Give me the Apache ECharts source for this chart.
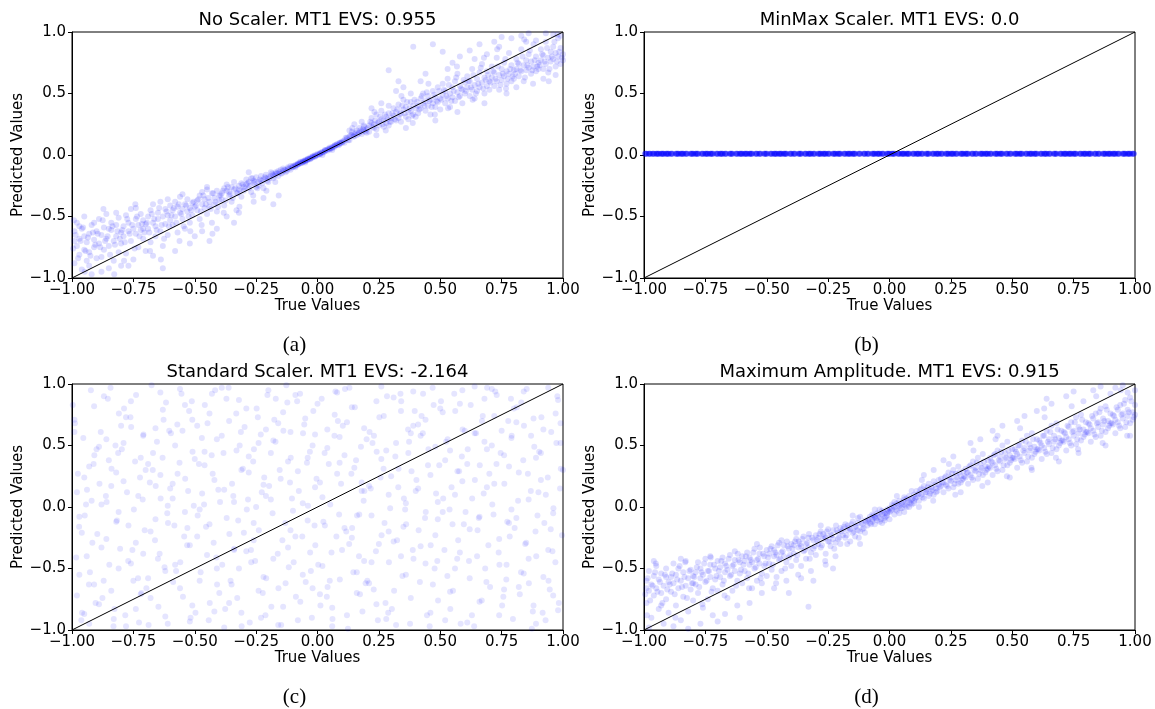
<!DOCTYPE html>
<html>
<head>
<meta charset="utf-8">
<script src="https://cdn.jsdelivr.net/npm/echarts@6/dist/echarts.min.js"></script>
<style>
html,body{margin:0;padding:0;background:#fff;}
#chart{width:1155px;height:709px;}
</style>
</head>
<body>
<div id="chart"></div>
<script>
// ---------------- DATA ----------------
const panelTitles = [
  "No Scaler. MT1 EVS: 0.955",
  "MinMax Scaler. MT1 EVS: 0.0",
  "Standard Scaler. MT1 EVS: -2.164",
  "Maximum Amplitude. MT1 EVS: 0.915"
];
const subCaptions = ["(a)", "(b)", "(c)", "(d)"];
const xAxisName = "True Values";
const yAxisName = "Predicted Values";
const diagonal = [[-1, -1], [1, 1]];

// (a) No Scaler: [true, predicted]
const noScalerPoints = [
[-0.99,-0.62],[-0.99,-0.88],[-0.98,-0.74],[-0.98,-0.55],[-0.97,-0.81],[-0.97,-0.68],[-0.96,-0.93],[-0.96,-0.6],[-0.95,-0.77],[-0.95,-0.5],[-0.94,-0.71],[-0.94,-0.86],[-0.93,-0.64],[-0.93,-0.79],[-0.92,-0.57],[-0.92,-0.97],[-0.91,-0.69],[-0.91,-0.75],[-0.9,-0.62],[-0.9,-0.84],
[-0.99,-0.7],[-0.97,-0.58],[-0.95,-0.66],[-0.93,-0.9],[-0.91,-0.55],
[-0.89,-0.72],[-0.89,-0.52],[-0.88,-0.65],[-0.88,-0.83],[-0.87,-0.59],[-0.87,-0.77],[-0.86,-0.68],[-0.86,-0.48],[-0.85,-0.74],[-0.85,-0.92],[-0.84,-0.61],[-0.84,-0.55],[-0.83,-0.7],[-0.83,-0.86],[-0.82,-0.57],[-0.82,-0.66],[-0.81,-0.79],[-0.81,-0.51],[-0.8,-0.63],[-0.8,-0.72],
[-0.88,-0.95],[-0.85,-0.6],[-0.82,-0.47],[-0.8,-0.9],
[-0.79,-0.58],[-0.79,-0.66],[-0.78,-0.49],[-0.78,-0.8],[-0.77,-0.62],[-0.77,-0.55],[-0.76,-0.7],[-0.76,-0.44],[-0.75,-0.6],[-0.75,-0.85],[-0.74,-0.52],[-0.74,-0.64],[-0.73,-0.57],[-0.73,-0.75],[-0.72,-0.48],[-0.72,-0.61],[-0.71,-0.68],[-0.71,-0.53],[-0.7,-0.56],[-0.7,-0.78],
[-0.77,-0.9],[-0.74,-0.43],[-0.71,-0.6],
[-0.69,-0.5],[-0.69,-0.6],[-0.68,-0.45],[-0.68,-0.71],[-0.67,-0.55],[-0.67,-0.4],[-0.66,-0.58],[-0.66,-0.66],[-0.65,-0.47],[-0.65,-0.52],[-0.64,-0.62],[-0.64,-0.38],[-0.63,-0.5],[-0.63,-0.74],[-0.62,-0.44],[-0.62,-0.56],[-0.61,-0.49],[-0.61,-0.65],[-0.6,-0.41],[-0.6,-0.53],
[-0.67,-0.82],[-0.63,-0.92],[-0.61,-0.36],
[-0.59,-0.45],[-0.59,-0.57],[-0.58,-0.38],[-0.58,-0.5],[-0.57,-0.42],[-0.57,-0.63],[-0.56,-0.47],[-0.56,-0.34],[-0.55,-0.52],[-0.55,-0.44],[-0.54,-0.4],[-0.54,-0.6],[-0.53,-0.46],[-0.53,-0.36],[-0.52,-0.43],[-0.52,-0.55],[-0.51,-0.39],[-0.51,-0.49],[-0.5,-0.42],[-0.5,-0.66],
[-0.58,-0.78],[-0.55,-0.32],[-0.52,-0.72],
[-0.49,-0.37],[-0.49,-0.45],[-0.48,-0.33],[-0.48,-0.52],[-0.47,-0.4],[-0.47,-0.3],[-0.46,-0.43],[-0.46,-0.36],[-0.45,-0.48],[-0.45,-0.28],[-0.44,-0.38],[-0.44,-0.42],[-0.43,-0.31],[-0.43,-0.55],[-0.42,-0.35],[-0.42,-0.4],[-0.41,-0.29],[-0.41,-0.46],[-0.4,-0.33],[-0.4,-0.37],
[-0.47,-0.62],[-0.44,-0.7],[-0.41,-0.6],[-0.45,-0.26],
[-0.39,-0.31],[-0.39,-0.36],[-0.38,-0.27],[-0.38,-0.41],[-0.37,-0.29],[-0.37,-0.24],[-0.36,-0.33],[-0.36,-0.3],[-0.35,-0.26],[-0.35,-0.38],[-0.34,-0.28],[-0.34,-0.22],[-0.33,-0.31],[-0.33,-0.45],[-0.32,-0.25],[-0.32,-0.28],[-0.31,-0.23],[-0.31,-0.34],[-0.3,-0.26],[-0.3,-0.29],
[-0.37,-0.5],[-0.34,-0.55],[-0.32,-0.47],
[-0.29,-0.24],[-0.29,-0.2],[-0.28,-0.27],[-0.28,-0.22],[-0.27,-0.19],[-0.27,-0.3],[-0.26,-0.23],[-0.26,-0.21],[-0.25,-0.18],[-0.25,-0.26],[-0.24,-0.22],[-0.24,-0.25],[-0.23,-0.17],[-0.23,-0.21],[-0.22,-0.2],[-0.22,-0.27],[-0.21,-0.16],[-0.21,-0.19],[-0.2,-0.18],[-0.2,-0.22],
[-0.26,-0.38],[-0.22,-0.35],[-0.28,-0.14],[-0.18,-0.4],
[-0.19,-0.17],[-0.19,-0.14],[-0.18,-0.16],[-0.18,-0.19],[-0.17,-0.14],[-0.17,-0.15],[-0.16,-0.13],[-0.16,-0.17],[-0.15,-0.12],[-0.15,-0.15],[-0.14,-0.13],[-0.14,-0.11],[-0.13,-0.12],[-0.13,-0.14],[-0.12,-0.1],[-0.12,-0.11],[-0.11,-0.09],[-0.11,-0.12],[-0.1,-0.09],[-0.1,-0.1],
[-0.09,-0.08],[-0.09,-0.09],[-0.08,-0.07],[-0.08,-0.08],[-0.07,-0.06],[-0.07,-0.07],[-0.06,-0.05],[-0.06,-0.06],[-0.05,-0.04],[-0.05,-0.05],[-0.04,-0.04],[-0.04,-0.03],[-0.03,-0.03],[-0.03,-0.02],[-0.02,-0.02],[-0.02,-0.01],[-0.01,-0.01],[-0.01,0.0],[0.0,0.0],[0.0,0.01],
[-0.06,-0.055],[-0.04,-0.035],[-0.02,-0.015],[-0.08,-0.075],[-0.05,-0.045],[0.01,0.01],[0.02,0.02],
[0.01,0.015],[0.02,0.025],[0.03,0.03],[0.03,0.04],[0.04,0.045],[0.04,0.035],[0.05,0.05],[0.05,0.06],[0.06,0.065],[0.06,0.055],[0.07,0.075],[0.07,0.065],[0.08,0.085],[0.08,0.09],[0.09,0.1],[0.09,0.085],[0.1,0.11],[0.1,0.1],[0.02,0.0],[0.06,0.04],
[0.11,0.12],[0.11,0.1],[0.12,0.14],[0.12,0.13],[0.13,0.15],[0.13,0.12],[0.14,0.16],[0.14,0.19],[0.15,0.15],[0.15,0.17],[0.16,0.2],[0.16,0.16],[0.17,0.18],[0.17,0.22],[0.18,0.19],[0.18,0.17],[0.19,0.23],[0.19,0.2],[0.2,0.21],[0.2,0.18],
[0.15,0.25],[0.18,0.27],[0.13,0.2],
[0.21,0.24],[0.21,0.19],[0.22,0.26],[0.22,0.3],[0.23,0.22],[0.23,0.25],[0.24,0.33],[0.24,0.21],[0.25,0.27],[0.25,0.24],[0.26,0.29],[0.26,0.36],[0.27,0.23],[0.27,0.28],[0.28,0.31],[0.28,0.26],[0.29,0.34],[0.29,0.24],[0.3,0.3],[0.3,0.27],
[0.22,0.38],[0.26,0.42],[0.29,0.4],[0.24,0.16],[0.29,0.69],
[0.31,0.32],[0.31,0.38],[0.32,0.28],[0.32,0.35],[0.33,0.41],[0.33,0.3],[0.34,0.34],[0.34,0.27],[0.35,0.37],[0.35,0.45],[0.36,0.31],[0.36,0.39],[0.37,0.35],[0.37,0.29],[0.38,0.43],[0.38,0.36],[0.39,0.33],[0.39,0.4],[0.4,0.38],[0.4,0.31],
[0.32,0.52],[0.35,0.55],[0.38,0.5],[0.33,0.6],[0.36,0.22],
[0.41,0.4],[0.41,0.34],[0.42,0.46],[0.42,0.38],[0.43,0.42],[0.43,0.5],[0.44,0.36],[0.44,0.44],[0.45,0.48],[0.45,0.4],[0.46,0.33],[0.46,0.45],[0.47,0.52],[0.47,0.42],[0.48,0.39],[0.48,0.47],[0.49,0.55],[0.49,0.43],[0.5,0.37],[0.5,0.46],
[0.39,0.88],[0.47,0.9],[0.44,0.66],[0.42,0.6],[0.48,0.28],
[0.51,0.49],[0.51,0.58],[0.52,0.42],[0.52,0.52],[0.53,0.46],[0.53,0.62],[0.54,0.5],[0.54,0.39],[0.55,0.55],[0.55,0.47],[0.56,0.6],[0.56,0.44],[0.57,0.51],[0.57,0.66],[0.58,0.48],[0.58,0.56],[0.59,0.42],[0.59,0.53],[0.6,0.59],[0.6,0.5],
[0.51,0.84],[0.55,0.75],[0.58,0.8],[0.53,0.7],[0.57,0.35],
[0.61,0.55],[0.61,0.64],[0.62,0.48],[0.62,0.6],[0.63,0.53],[0.63,0.7],[0.64,0.57],[0.64,0.46],[0.65,0.62],[0.65,0.52],[0.66,0.67],[0.66,0.55],[0.67,0.59],[0.67,0.74],[0.68,0.5],[0.68,0.63],[0.69,0.56],[0.69,0.68],[0.7,0.6],[0.7,0.53],
[0.62,0.85],[0.66,0.9],[0.69,0.82],[0.64,0.78],[0.68,0.42],
[0.71,0.63],[0.71,0.72],[0.72,0.56],[0.72,0.67],[0.73,0.6],[0.73,0.79],[0.74,0.65],[0.74,0.53],[0.75,0.7],[0.75,0.61],[0.76,0.75],[0.76,0.64],[0.77,0.58],[0.77,0.68],[0.78,0.83],[0.78,0.66],[0.79,0.6],[0.79,0.73],[0.8,0.69],[0.8,0.62],
[0.72,0.92],[0.75,0.96],[0.79,0.95],[0.74,0.88],[0.77,0.5],
[0.81,0.7],[0.81,0.78],[0.82,0.64],[0.82,0.74],[0.83,0.68],[0.83,0.86],[0.84,0.73],[0.84,0.6],[0.85,0.77],[0.85,0.69],[0.86,0.82],[0.86,0.71],[0.87,0.66],[0.87,0.76],[0.88,0.9],[0.88,0.72],[0.89,0.68],[0.89,0.8],[0.9,0.75],[0.9,0.7],
[0.83,0.97],[0.86,0.99],[0.89,0.93],[0.81,0.55],[0.85,0.92],
[0.91,0.77],[0.91,0.86],[0.92,0.7],[0.92,0.81],[0.93,0.74],[0.93,0.92],[0.94,0.79],[0.94,0.67],[0.95,0.84],[0.95,0.76],[0.96,0.88],[0.96,0.78],[0.97,0.72],[0.97,0.83],[0.98,0.95],[0.98,0.8],[0.99,0.74],[0.99,0.87],[1.0,0.82],[1.0,0.77],
[0.93,0.99],[0.96,0.98],[0.99,0.97],[0.92,0.62],[0.97,0.65],
[-0.995,-0.76],[-0.985,-0.65],[-0.975,-0.84],[-0.965,-0.7],[-0.955,-0.59],[-0.945,-0.78],[-0.935,-0.67],[-0.925,-0.82],[-0.915,-0.63],[-0.905,-0.73],[-0.992,-0.53],[-0.948,-0.95],
[-0.895,-0.64],[-0.885,-0.75],[-0.875,-0.53],[-0.865,-0.7],[-0.855,-0.66],[-0.845,-0.81],[-0.835,-0.58],[-0.825,-0.73],[-0.815,-0.62],[-0.805,-0.68],[-0.872,-0.44],[-0.828,-0.97],
[-0.795,-0.61],[-0.785,-0.71],[-0.775,-0.52],[-0.765,-0.64],[-0.755,-0.57],[-0.745,-0.76],[-0.735,-0.5],[-0.725,-0.66],[-0.715,-0.56],[-0.705,-0.63],[-0.788,-0.86],[-0.742,-0.4],
[-0.695,-0.55],[-0.685,-0.63],[-0.675,-0.48],[-0.665,-0.52],[-0.655,-0.61],[-0.645,-0.43],[-0.635,-0.57],[-0.625,-0.68],[-0.615,-0.46],[-0.605,-0.58],[-0.682,-0.78],[-0.638,-0.85],
[-0.595,-0.49],[-0.585,-0.43],[-0.575,-0.55],[-0.565,-0.4],[-0.555,-0.48],[-0.545,-0.58],[-0.535,-0.41],[-0.525,-0.5],[-0.515,-0.45],[-0.505,-0.38],[-0.562,-0.7],[-0.518,-0.62],
[-0.495,-0.41],[-0.485,-0.36],[-0.475,-0.46],[-0.465,-0.33],[-0.455,-0.4],[-0.445,-0.35],[-0.435,-0.44],[-0.425,-0.31],[-0.415,-0.38],[-0.405,-0.42],[-0.472,-0.57],[-0.428,-0.64],
[-0.395,-0.33],[-0.385,-0.29],[-0.375,-0.37],[-0.365,-0.26],[-0.355,-0.32],[-0.345,-0.35],[-0.335,-0.27],[-0.325,-0.31],[-0.315,-0.29],[-0.305,-0.24],[-0.382,-0.47],[-0.318,-0.42],
[-0.295,-0.27],[-0.285,-0.23],[-0.275,-0.25],[-0.265,-0.19],[-0.255,-0.22],[-0.245,-0.27],[-0.235,-0.2],[-0.225,-0.23],[-0.215,-0.18],[-0.205,-0.21],[-0.262,-0.33],[-0.208,-0.29],
[-0.195,-0.19],[-0.185,-0.15],[-0.175,-0.17],[-0.165,-0.15],[-0.155,-0.14],[-0.145,-0.15],[-0.135,-0.12],[-0.125,-0.13],[-0.115,-0.11],[-0.105,-0.1],[-0.172,-0.22],[-0.158,-0.33],
[-0.095,-0.09],[-0.085,-0.08],[-0.075,-0.07],[-0.065,-0.065],[-0.055,-0.05],[-0.045,-0.045],[-0.035,-0.03],[-0.025,-0.025],[-0.015,-0.01],[-0.005,-0.005],[-0.07,-0.055],[-0.03,-0.035],[-0.01,-0.015],[-0.05,-0.06],[-0.09,-0.1],
[0.005,0.005],[0.015,0.02],[0.025,0.02],[0.035,0.04],[0.045,0.05],[0.055,0.055],[0.065,0.07],[0.075,0.08],[0.085,0.08],[0.095,0.1],[0.03,0.035],[0.05,0.045],[0.07,0.08],[0.01,0.005],[0.09,0.095],
[0.105,0.11],[0.115,0.14],[0.125,0.12],[0.135,0.16],[0.145,0.15],[0.155,0.18],[0.165,0.17],[0.175,0.2],[0.185,0.21],[0.195,0.19],[0.142,0.22],[0.188,0.24],
[0.205,0.22],[0.215,0.27],[0.225,0.23],[0.235,0.28],[0.245,0.26],[0.255,0.31],[0.265,0.25],[0.275,0.33],[0.285,0.29],[0.295,0.27],[0.232,0.35],[0.278,0.2],
[0.305,0.34],[0.315,0.29],[0.325,0.37],[0.335,0.33],[0.345,0.4],[0.355,0.34],[0.365,0.43],[0.375,0.38],[0.385,0.32],[0.395,0.45],[0.342,0.48],[0.388,0.26],
[0.405,0.43],[0.415,0.37],[0.425,0.48],[0.435,0.4],[0.445,0.51],[0.455,0.44],[0.465,0.39],[0.475,0.49],[0.485,0.44],[0.495,0.52],[0.452,0.58],[0.478,0.33],
[0.505,0.45],[0.515,0.53],[0.525,0.48],[0.535,0.57],[0.545,0.44],[0.555,0.52],[0.565,0.63],[0.575,0.47],[0.585,0.54],[0.595,0.61],[0.532,0.38],[0.568,0.72],
[0.605,0.52],[0.615,0.6],[0.625,0.55],[0.635,0.65],[0.645,0.5],[0.655,0.58],[0.665,0.71],[0.675,0.54],[0.685,0.61],[0.695,0.65],[0.632,0.45],[0.678,0.79],
[0.705,0.59],[0.715,0.68],[0.725,0.62],[0.735,0.72],[0.745,0.57],[0.755,0.66],[0.765,0.78],[0.775,0.62],[0.785,0.7],[0.795,0.64],[0.732,0.86],[0.768,0.54],
[0.805,0.66],[0.815,0.75],[0.825,0.69],[0.835,0.8],[0.845,0.63],[0.855,0.73],[0.865,0.85],[0.875,0.69],[0.885,0.77],[0.895,0.72],[0.842,0.94],[0.878,0.58],
[0.905,0.73],[0.915,0.82],[0.925,0.76],[0.935,0.87],[0.945,0.7],[0.955,0.8],[0.965,0.92],[0.975,0.76],[0.985,0.84],[0.995,0.79],[0.942,0.6],[0.978,0.98]
];

// (b) MinMax Scaler: predictions collapse to ~0
const minMaxPoints = [
[-0.99,0.01],[-0.98,0.01],[-0.96,0.01],[-0.95,0.01],[-0.93,0.01],[-0.92,0.01],[-0.9,0.01],[-0.89,0.01],[-0.87,0.01],[-0.86,0.01],[-0.84,0.01],[-0.83,0.01],[-0.81,0.01],[-0.79,0.01],[-0.78,0.01],[-0.76,0.01],[-0.75,0.01],[-0.73,0.01],[-0.72,0.01],[-0.7,0.01],
[-0.69,0.01],[-0.67,0.01],[-0.65,0.01],[-0.64,0.01],[-0.62,0.01],[-0.61,0.01],[-0.59,0.01],[-0.58,0.01],[-0.56,0.01],[-0.54,0.01],[-0.53,0.01],[-0.51,0.01],[-0.5,0.01],[-0.48,0.01],[-0.47,0.01],[-0.45,0.01],[-0.43,0.01],[-0.42,0.01],[-0.4,0.01],[-0.39,0.01],
[-0.37,0.01],[-0.36,0.01],[-0.34,0.01],[-0.32,0.01],[-0.31,0.01],[-0.29,0.01],[-0.28,0.01],[-0.26,0.01],[-0.25,0.01],[-0.23,0.01],[-0.21,0.01],[-0.2,0.01],[-0.18,0.01],[-0.17,0.01],[-0.15,0.01],[-0.14,0.01],[-0.12,0.01],[-0.1,0.01],[-0.09,0.01],[-0.07,0.01],
[-0.06,0.01],[-0.04,0.01],[-0.03,0.01],[-0.01,0.01],[0.01,0.01],[0.02,0.01],[0.04,0.01],[0.05,0.01],[0.07,0.01],[0.08,0.01],[0.1,0.01],[0.12,0.01],[0.13,0.01],[0.15,0.01],[0.16,0.01],[0.18,0.01],[0.19,0.01],[0.21,0.01],[0.23,0.01],[0.24,0.01],
[0.26,0.01],[0.27,0.01],[0.29,0.01],[0.3,0.01],[0.32,0.01],[0.34,0.01],[0.35,0.01],[0.37,0.01],[0.38,0.01],[0.4,0.01],[0.41,0.01],[0.43,0.01],[0.45,0.01],[0.46,0.01],[0.48,0.01],[0.49,0.01],[0.51,0.01],[0.52,0.01],[0.54,0.01],[0.56,0.01],
[0.57,0.01],[0.59,0.01],[0.6,0.01],[0.62,0.01],[0.63,0.01],[0.65,0.01],[0.67,0.01],[0.68,0.01],[0.7,0.01],[0.71,0.01],[0.73,0.01],[0.74,0.01],[0.76,0.01],[0.78,0.01],[0.79,0.01],[0.81,0.01],[0.82,0.01],[0.84,0.01],[0.85,0.01],[0.87,0.01],
[0.89,0.01],[0.9,0.01],[0.92,0.01],[0.93,0.01],[0.95,0.01],[0.96,0.01],[0.98,0.01],[0.99,0.01],
[-0.94,0.01],[-0.85,0.01],[-0.8,0.01],[-0.68,0.01],[-0.57,0.01],[-0.44,0.01],[-0.33,0.01],[-0.22,0.01],[-0.16,0.01],[-0.05,0.01],[0.0,0.01],[0.11,0.01],[0.2,0.01],[0.31,0.01],[0.44,0.01],[0.53,0.01],
[0.64,0.01],[0.72,0.01],[0.8,0.01],[0.91,0.01],[-0.91,0.01],[-0.74,0.01],[-0.6,0.01],[-0.46,0.01],[-0.27,0.01],[0.06,0.01],[0.25,0.01],[0.39,0.01],[0.58,0.01],[0.75,0.01],[0.88,0.01],[0.97,0.01],
[-0.995,0.01],[-0.975,0.01],[-0.965,0.01],[-0.945,0.01],[-0.925,0.01],[-0.905,0.01],[-0.885,0.01],[-0.865,0.01],[-0.845,0.01],[-0.825,0.01],[-0.805,0.01],[-0.785,0.01],[-0.765,0.01],[-0.745,0.01],[-0.725,0.01],[-0.705,0.01],[-0.685,0.01],[-0.665,0.01],[-0.645,0.01],[-0.625,0.01],
[-0.605,0.01],[-0.585,0.01],[-0.565,0.01],[-0.545,0.01],[-0.525,0.01],[-0.505,0.01],[-0.485,0.01],[-0.465,0.01],[-0.445,0.01],[-0.425,0.01],[-0.405,0.01],[-0.385,0.01],[-0.365,0.01],[-0.345,0.01],[-0.325,0.01],[-0.305,0.01],[-0.285,0.01],[-0.265,0.01],[-0.245,0.01],[-0.225,0.01],
[-0.205,0.01],[-0.185,0.01],[-0.165,0.01],[-0.145,0.01],[-0.125,0.01],[-0.105,0.01],[-0.085,0.01],[-0.065,0.01],[-0.045,0.01],[-0.025,0.01],[-0.005,0.01],[0.015,0.01],[0.035,0.01],[0.055,0.01],[0.075,0.01],[0.095,0.01],[0.115,0.01],[0.135,0.01],[0.155,0.01],[0.175,0.01],
[0.195,0.01],[0.215,0.01],[0.235,0.01],[0.255,0.01],[0.275,0.01],[0.295,0.01],[0.315,0.01],[0.335,0.01],[0.355,0.01],[0.375,0.01],[0.395,0.01],[0.415,0.01],[0.435,0.01],[0.455,0.01],[0.475,0.01],[0.495,0.01],[0.515,0.01],[0.535,0.01],[0.555,0.01],[0.575,0.01],
[0.595,0.01],[0.615,0.01],[0.635,0.01],[0.655,0.01],[0.675,0.01],[0.695,0.01],[0.715,0.01],[0.735,0.01],[0.755,0.01],[0.775,0.01],[0.795,0.01],[0.815,0.01],[0.835,0.01],[0.855,0.01],[0.875,0.01],[0.895,0.01],[0.915,0.01],[0.935,0.01],[0.955,0.01],[0.975,0.01],[0.995,0.01]
];

// (c) Standard Scaler: predictions scattered
const standardPoints = [
[-0.98,0.12],[-0.97,-0.55],[-0.99,0.61],[-0.95,-0.87],[-0.93,0.33],[-0.96,-0.21],[-0.91,0.82],[-0.94,-0.4],[-0.92,0.05],[-0.98,-0.72],[-0.9,0.47],[-0.97,-0.08],[-0.93,-0.95],[-0.95,0.24],[-0.91,-0.63],[-0.99,0.71],
[-0.88,-0.33],[-0.86,0.55],[-0.89,-0.79],[-0.84,0.17],[-0.82,-0.12],[-0.87,0.9],[-0.81,-0.5],[-0.85,0.38],[-0.83,-0.91],[-0.88,0.02],[-0.8,0.66],[-0.86,-0.26],[-0.84,-0.68],[-0.82,0.28],[-0.89,0.49],[-0.81,-0.04],
[-0.78,0.73],[-0.76,-0.46],[-0.79,0.21],[-0.74,-0.83],[-0.72,0.4],[-0.77,-0.15],[-0.71,0.58],[-0.75,-0.6],[-0.73,0.09],[-0.78,-0.97],[-0.7,0.3],[-0.76,0.86],[-0.74,-0.29],[-0.72,-0.71],[-0.79,0.52],[-0.71,-0.38],
[-0.68,-0.2],[-0.66,0.64],[-0.69,-0.58],[-0.64,0.26],[-0.62,-0.89],[-0.67,0.44],[-0.61,0.01],[-0.65,-0.42],[-0.63,0.79],[-0.68,-0.74],[-0.6,0.15],[-0.66,-0.1],[-0.64,0.93],[-0.62,-0.52],[-0.69,0.35],[-0.61,-0.95],
[-0.58,0.5],[-0.56,-0.66],[-0.59,0.07],[-0.54,0.83],[-0.52,-0.31],[-0.57,0.27],[-0.51,-0.8],[-0.55,0.62],[-0.53,-0.17],[-0.58,-0.47],[-0.5,0.39],[-0.56,0.96],[-0.54,-0.04],[-0.52,-0.93],[-0.59,0.19],[-0.51,0.71],
[-0.48,-0.6],[-0.46,0.34],[-0.49,-0.24],[-0.44,0.76],[-0.42,-0.85],[-0.47,0.11],[-0.41,0.55],[-0.45,-0.39],[-0.43,0.92],[-0.48,-0.02],[-0.4,-0.7],[-0.46,0.45],[-0.44,-0.14],[-0.42,0.22],[-0.49,0.66],[-0.41,-0.5],
[-0.38,0.14],[-0.36,-0.78],[-0.39,0.58],[-0.34,-0.35],[-0.32,0.87],[-0.37,-0.09],[-0.31,0.3],[-0.35,-0.63],[-0.33,0.46],[-0.38,-0.98],[-0.3,-0.21],[-0.36,0.7],[-0.34,0.04],[-0.32,-0.5],[-0.39,0.97],[-0.31,-0.86],
[-0.28,0.41],[-0.26,-0.27],[-0.29,0.8],[-0.24,-0.68],[-0.22,0.18],[-0.27,-0.45],[-0.21,0.63],[-0.25,0.0],[-0.23,-0.9],[-0.28,0.28],[-0.2,0.95],[-0.26,-0.13],[-0.24,0.52],[-0.22,-0.57],[-0.29,-0.36],[-0.21,0.09],
[-0.18,-0.42],[-0.16,0.68],[-0.19,0.06],[-0.14,-0.81],[-0.12,0.37],[-0.17,0.88],[-0.11,-0.19],[-0.15,0.23],[-0.13,-0.62],[-0.18,0.54],[-0.1,-0.03],[-0.16,-0.96],[-0.14,0.77],[-0.12,-0.33],[-0.19,0.44],[-0.11,0.61],
[-0.08,0.29],[-0.06,-0.55],[-0.09,0.91],[-0.04,-0.11],[-0.02,0.5],[-0.07,-0.77],[-0.01,0.16],[-0.05,0.72],[-0.03,-0.37],[-0.08,-0.92],[0.0,0.84],[-0.06,0.03],[-0.04,0.4],[-0.02,-0.66],[-0.09,-0.24],[-0.01,0.59],
[0.02,-0.48],[0.04,0.63],[0.01,0.2],[0.06,-0.82],[0.08,0.93],[0.03,-0.15],[0.09,0.36],[0.05,-0.6],[0.07,0.75],[0.02,0.08],[0.1,-0.35],[0.04,0.48],[0.06,-0.97],[0.08,0.27],[0.01,-0.71],[0.09,0.57],
[0.12,0.69],[0.14,-0.25],[0.11,0.42],[0.16,-0.7],[0.18,0.13],[0.13,0.97],[0.19,-0.44],[0.15,0.32],[0.17,-0.06],[0.12,-0.88],[0.2,0.55],[0.14,0.81],[0.16,-0.53],[0.18,0.2],[0.11,-0.17],[0.19,0.64],
[0.22,-0.07],[0.24,0.86],[0.21,-0.62],[0.26,0.39],[0.28,-0.91],[0.23,0.58],[0.29,0.1],[0.25,-0.3],[0.27,0.74],[0.22,-0.45],[0.3,0.25],[0.24,-0.79],[0.26,0.98],[0.28,0.46],[0.21,0.17],[0.29,-0.2],
[0.32,0.52],[0.34,-0.4],[0.31,0.89],[0.36,0.03],[0.38,-0.74],[0.33,0.31],[0.39,0.66],[0.35,-0.16],[0.37,0.44],[0.32,-0.96],[0.4,0.13],[0.34,0.78],[0.36,-0.55],[0.38,0.6],[0.31,-0.28],[0.39,0.94],
[0.42,-0.32],[0.44,0.71],[0.41,0.15],[0.46,-0.86],[0.48,0.49],[0.43,0.92],[0.49,-0.1],[0.45,0.34],[0.47,-0.63],[0.42,0.58],[0.5,0.8],[0.44,-0.46],[0.46,0.26],[0.48,-0.23],[0.41,0.67],[0.49,0.04],
[0.52,0.38],[0.54,-0.69],[0.51,0.77],[0.56,0.1],[0.58,-0.37],[0.53,0.55],[0.59,0.95],[0.55,-0.14],[0.57,0.29],[0.52,-0.92],[0.6,0.62],[0.54,0.46],[0.56,-0.5],[0.58,0.84],[0.51,-0.04],[0.59,0.21],
[0.62,-0.18],[0.64,0.6],[0.61,0.35],[0.66,-0.77],[0.68,0.88],[0.63,0.07],[0.69,0.47],[0.65,-0.4],[0.67,0.7],[0.62,-0.58],[0.7,0.27],[0.64,0.98],[0.66,-0.08],[0.68,0.53],[0.61,-0.94],[0.69,0.16],
[0.72,0.74],[0.74,-0.26],[0.71,0.5],[0.76,-0.67],[0.78,0.33],[0.73,0.91],[0.79,-0.02],[0.75,0.62],[0.77,-0.47],[0.72,0.19],[0.8,0.8],[0.74,-0.88],[0.76,0.42],[0.78,-0.13],[0.71,0.96],[0.79,0.56],
[0.82,0.28],[0.84,-0.54],[0.81,0.69],[0.86,0.06],[0.88,-0.8],[0.83,0.85],[0.89,0.4],[0.85,-0.29],[0.87,0.58],[0.82,-0.65],[0.9,0.12],[0.84,0.94],[0.86,-0.42],[0.88,0.72],[0.81,-0.09],[0.89,-0.95],
[0.92,0.63],[0.94,-0.35],[0.91,0.44],[0.96,-0.72],[0.98,0.87],[0.93,0.1],[0.99,0.52],[0.95,-0.18],[0.97,0.76],[0.92,-0.57],[1.0,0.3],[0.94,0.97],[0.96,-0.05],[0.98,-0.84],[0.91,0.22],[0.99,0.68],
[-0.997,0.83],[-0.983,-0.41],[-0.976,0.27],[-0.962,-0.92],[-0.954,0.56],[-0.948,-0.07],[-0.939,0.14],[-0.931,-0.63],[-0.923,0.95],[-0.917,-0.29],[-0.909,0.42],[-0.904,-0.78],[-0.988,0.68],[-0.971,-0.16],[-0.943,0.02],[-0.927,-0.53],[-0.912,0.35],[-0.959,-0.86],
[-0.897,-0.22],[-0.883,0.61],[-0.876,-0.74],[-0.862,0.09],[-0.854,0.88],[-0.848,-0.47],[-0.839,0.31],[-0.831,-0.97],[-0.823,0.5],[-0.817,-0.11],[-0.809,0.76],[-0.804,-0.34],[-0.888,0.19],[-0.871,-0.6],[-0.843,0.97],[-0.827,-0.83],[-0.812,0.44],[-0.859,0.04],
[-0.797,0.47],[-0.783,-0.88],[-0.776,0.12],[-0.762,0.73],[-0.754,-0.35],[-0.748,-0.02],[-0.739,0.91],[-0.731,-0.58],[-0.723,0.24],[-0.717,-0.7],[-0.709,0.59],[-0.704,-0.19],[-0.788,0.8],[-0.771,-0.44],[-0.743,0.37],[-0.727,-0.94],[-0.712,0.06],[-0.759,0.65],
[-0.697,-0.66],[-0.683,0.2],[-0.676,0.99],[-0.662,-0.27],[-0.654,0.53],[-0.648,-0.81],[-0.639,0.07],[-0.631,0.4],[-0.623,-0.49],[-0.617,0.85],[-0.609,-0.13],[-0.604,0.62],[-0.688,-0.96],[-0.671,0.3],[-0.643,-0.38],[-0.627,0.71],[-0.612,-0.05],[-0.659,0.17],
[-0.597,0.6],[-0.583,-0.15],[-0.576,-0.52],[-0.562,0.36],[-0.554,0.92],[-0.548,-0.73],[-0.539,0.23],[-0.531,-0.31],[-0.523,0.78],[-0.517,-0.9],[-0.509,0.45],[-0.504,0.01],[-0.588,-0.61],[-0.571,0.67],[-0.543,-0.24],[-0.527,0.13],[-0.512,0.86],[-0.559,-0.45],
[-0.497,-0.86],[-0.483,0.35],[-0.476,-0.53],[-0.462,0.02],[-0.454,-0.16],[-0.448,0.68],[-0.439,-0.78],[-0.431,0.42],[-0.423,-0.29],[-0.417,0.95],[-0.409,-0.63],[-0.404,0.14],[-0.488,-0.07],[-0.471,0.56],[-0.443,-0.92],[-0.427,0.27],[-0.412,-0.41],[-0.459,0.83],
[-0.397,0.04],[-0.383,0.44],[-0.376,-0.83],[-0.362,0.97],[-0.354,-0.6],[-0.348,0.19],[-0.339,-0.34],[-0.331,0.76],[-0.323,-0.11],[-0.317,0.5],[-0.309,-0.97],[-0.304,0.31],[-0.388,-0.47],[-0.371,0.88],[-0.343,0.09],[-0.327,-0.74],[-0.312,0.61],[-0.359,-0.22],
[-0.297,0.65],[-0.283,0.06],[-0.276,-0.94],[-0.262,0.37],[-0.254,-0.44],[-0.248,0.8],[-0.239,-0.19],[-0.231,0.59],[-0.223,-0.7],[-0.217,0.24],[-0.209,-0.58],[-0.204,0.91],[-0.288,-0.02],[-0.271,-0.35],[-0.243,0.73],[-0.227,0.12],[-0.212,-0.88],[-0.259,0.47],
[-0.197,0.17],[-0.183,-0.05],[-0.176,0.71],[-0.162,-0.38],[-0.154,0.3],[-0.148,-0.96],[-0.139,0.62],[-0.131,-0.13],[-0.123,0.85],[-0.117,-0.49],[-0.109,0.4],[-0.104,0.07],[-0.188,-0.81],[-0.171,0.53],[-0.143,-0.27],[-0.127,0.99],[-0.112,0.2],[-0.159,-0.66],
[-0.097,-0.45],[-0.083,0.86],[-0.076,0.13],[-0.062,-0.24],[-0.054,0.67],[-0.048,-0.61],[-0.039,0.01],[-0.031,0.45],[-0.023,-0.9],[-0.017,0.78],[-0.009,-0.31],[-0.004,0.23],[-0.088,-0.73],[-0.071,0.92],[-0.043,0.36],[-0.027,-0.52],[-0.012,-0.15],[-0.059,0.6],
[0.003,-0.47],[0.017,0.88],[0.024,-0.12],[0.038,-0.73],[0.046,0.35],[0.052,0.02],[0.061,-0.91],[0.069,0.58],[0.077,-0.24],[0.083,0.7],[0.091,-0.59],[0.096,0.19],[0.012,-0.8],[0.029,0.44],[0.057,-0.37],[0.073,0.94],[0.088,-0.06],[0.041,-0.65],
[0.103,0.66],[0.117,-0.2],[0.124,-0.99],[0.138,0.27],[0.146,-0.53],[0.152,0.81],[0.161,-0.07],[0.169,-0.4],[0.177,0.49],[0.183,-0.85],[0.191,0.13],[0.196,-0.62],[0.112,0.96],[0.129,-0.3],[0.157,0.38],[0.173,-0.71],[0.188,0.05],[0.141,-0.17],
[0.203,-0.6],[0.217,0.15],[0.224,0.52],[0.238,-0.36],[0.246,-0.92],[0.252,0.73],[0.261,-0.23],[0.269,0.31],[0.277,-0.78],[0.283,0.9],[0.291,-0.45],[0.296,-0.01],[0.212,0.61],[0.229,-0.67],[0.257,0.24],[0.273,-0.13],[0.288,-0.86],[0.241,0.45],
[0.303,-0.83],[0.317,0.41],[0.324,-0.27],[0.338,0.92],[0.346,-0.56],[0.352,0.07],[0.361,-0.14],[0.369,0.63],[0.377,-0.95],[0.383,0.29],[0.391,-0.42],[0.396,0.78],[0.312,-0.68],[0.329,0.16],[0.357,-0.02],[0.373,0.53],[0.388,-0.35],[0.341,0.86],
[0.403,0.22],[0.417,-0.61],[0.424,0.74],[0.438,-0.09],[0.446,-0.88],[0.452,0.47],[0.461,-0.31],[0.469,0.97],[0.477,-0.5],[0.483,0.11],[0.491,-0.76],[0.496,0.34],[0.412,-0.19],[0.429,0.6],[0.457,-0.97],[0.473,0.83],[0.488,-0.44],[0.441,-0.04],
[0.503,0.86],[0.517,-0.35],[0.524,0.53],[0.538,-0.02],[0.546,0.16],[0.552,-0.68],[0.561,0.78],[0.569,-0.42],[0.577,0.29],[0.583,-0.95],[0.591,0.63],[0.596,-0.14],[0.512,0.07],[0.529,-0.56],[0.557,0.92],[0.573,-0.27],[0.588,0.41],[0.541,-0.83],
[0.603,-0.04],[0.617,-0.44],[0.624,0.83],[0.638,-0.97],[0.646,0.6],[0.652,-0.19],[0.661,0.34],[0.669,-0.76],[0.677,0.11],[0.683,-0.5],[0.691,0.97],[0.696,-0.31],[0.612,0.47],[0.629,-0.88],[0.657,-0.09],[0.673,0.74],[0.688,-0.61],[0.641,0.22],
[0.703,-0.65],[0.717,-0.06],[0.724,0.94],[0.738,-0.37],[0.746,0.44],[0.752,-0.8],[0.761,0.19],[0.769,-0.59],[0.777,0.7],[0.783,-0.24],[0.791,0.58],[0.796,-0.91],[0.712,0.02],[0.729,0.35],[0.757,-0.73],[0.773,-0.12],[0.788,0.88],[0.741,-0.47],
[0.803,-0.17],[0.817,0.05],[0.824,-0.71],[0.838,0.38],[0.846,-0.3],[0.852,0.96],[0.861,-0.62],[0.869,0.13],[0.877,-0.85],[0.883,0.49],[0.891,-0.4],[0.896,-0.07],[0.812,0.81],[0.829,-0.53],[0.857,0.27],[0.873,-0.99],[0.888,-0.2],[0.841,0.66],
[0.903,0.45],[0.917,-0.86],[0.924,-0.13],[0.938,0.24],[0.946,-0.67],[0.952,0.61],[0.961,-0.01],[0.969,-0.45],[0.977,0.9],[0.983,-0.78],[0.991,0.31],[0.996,-0.23],[0.912,0.73],[0.929,-0.92],[0.957,-0.36],[0.973,0.52],[0.988,0.15],[0.941,-0.6]
];

// (d) Maximum Amplitude
const maxAmpPoints = [
[-0.99,-0.6],[-0.99,-0.78],[-0.98,-0.52],[-0.98,-0.68],[-0.97,-0.9],[-0.97,-0.63],[-0.96,-0.56],[-0.96,-0.72],[-0.95,-0.48],[-0.95,-0.66],[-0.94,-0.83],[-0.94,-0.59],[-0.93,-0.7],[-0.93,-0.54],[-0.92,-0.95],[-0.92,-0.64],[-0.91,-0.5],[-0.91,-0.75],[-0.9,-0.61],[-0.9,-0.86],
[-0.98,-0.98],[-0.96,-0.44],[-0.93,-0.8],[-0.91,-0.57],[-0.99,-0.66],
[-0.89,-0.57],[-0.89,-0.69],[-0.88,-0.46],[-0.88,-0.62],[-0.87,-0.8],[-0.87,-0.55],[-0.86,-0.66],[-0.86,-0.5],[-0.85,-0.92],[-0.85,-0.6],[-0.84,-0.53],[-0.84,-0.73],[-0.83,-0.64],[-0.83,-0.44],[-0.82,-0.58],[-0.82,-0.85],[-0.81,-0.51],[-0.81,-0.67],[-0.8,-0.56],[-0.8,-0.76],
[-0.88,-0.97],[-0.85,-0.42],[-0.82,-0.99],[-0.8,-0.62],
[-0.79,-0.53],[-0.79,-0.63],[-0.78,-0.45],[-0.78,-0.7],[-0.77,-0.58],[-0.77,-0.5],[-0.76,-0.82],[-0.76,-0.55],[-0.75,-0.42],[-0.75,-0.61],[-0.74,-0.52],[-0.74,-0.75],[-0.73,-0.57],[-0.73,-0.47],[-0.72,-0.66],[-0.72,-0.88],[-0.71,-0.5],[-0.71,-0.59],[-0.7,-0.44],[-0.7,-0.68],
[-0.77,-0.95],[-0.73,-0.4],[-0.7,-0.93],
[-0.69,-0.49],[-0.69,-0.57],[-0.68,-0.41],[-0.68,-0.63],[-0.67,-0.53],[-0.67,-0.46],[-0.66,-0.74],[-0.66,-0.51],[-0.65,-0.39],[-0.65,-0.56],[-0.64,-0.48],[-0.64,-0.68],[-0.63,-0.52],[-0.63,-0.43],[-0.62,-0.6],[-0.62,-0.8],[-0.61,-0.45],[-0.61,-0.54],[-0.6,-0.4],[-0.6,-0.62],
[-0.67,-0.87],[-0.63,-0.36],[-0.61,-0.9],
[-0.59,-0.44],[-0.59,-0.52],[-0.58,-0.37],[-0.58,-0.58],[-0.57,-0.47],[-0.57,-0.41],[-0.56,-0.66],[-0.56,-0.45],[-0.55,-0.34],[-0.55,-0.5],[-0.54,-0.43],[-0.54,-0.6],[-0.53,-0.46],[-0.53,-0.38],[-0.52,-0.54],[-0.52,-0.7],[-0.51,-0.4],[-0.51,-0.48],[-0.5,-0.35],[-0.5,-0.56],
[-0.57,-0.78],[-0.54,-0.3],[-0.52,-0.62],
[-0.49,-0.38],[-0.49,-0.46],[-0.48,-0.32],[-0.48,-0.51],[-0.47,-0.4],[-0.47,-0.35],[-0.46,-0.57],[-0.46,-0.39],[-0.45,-0.29],[-0.45,-0.43],[-0.44,-0.37],[-0.44,-0.52],[-0.43,-0.4],[-0.43,-0.31],[-0.42,-0.45],[-0.42,-0.6],[-0.41,-0.34],[-0.41,-0.41],[-0.4,-0.3],[-0.4,-0.48],
[-0.47,-0.66],[-0.44,-0.27],[-0.41,-0.7],
[-0.39,-0.31],[-0.39,-0.38],[-0.38,-0.26],[-0.38,-0.43],[-0.37,-0.33],[-0.37,-0.28],[-0.36,-0.48],[-0.36,-0.32],[-0.35,-0.24],[-0.35,-0.36],[-0.34,-0.3],[-0.34,-0.42],[-0.33,-0.33],[-0.33,-0.25],[-0.32,-0.37],[-0.32,-0.52],[-0.31,-0.27],[-0.31,-0.34],[-0.3,-0.23],[-0.3,-0.39],
[-0.33,-0.81],[-0.36,-0.58],[-0.31,-0.6],[-0.38,-0.21],
[-0.29,-0.25],[-0.29,-0.3],[-0.28,-0.2],[-0.28,-0.33],[-0.27,-0.26],[-0.27,-0.22],[-0.26,-0.38],[-0.26,-0.25],[-0.25,-0.18],[-0.25,-0.28],[-0.24,-0.23],[-0.24,-0.32],[-0.23,-0.26],[-0.23,-0.19],[-0.22,-0.29],[-0.22,-0.4],[-0.21,-0.21],[-0.21,-0.26],[-0.2,-0.17],[-0.2,-0.3],
[-0.26,-0.47],[-0.23,-0.5],[-0.28,-0.15],
[-0.19,-0.18],[-0.19,-0.23],[-0.18,-0.14],[-0.18,-0.25],[-0.17,-0.19],[-0.17,-0.15],[-0.16,-0.28],[-0.16,-0.18],[-0.15,-0.12],[-0.15,-0.21],[-0.14,-0.16],[-0.14,-0.24],[-0.13,-0.19],[-0.13,-0.13],[-0.12,-0.2],[-0.12,-0.3],[-0.11,-0.14],[-0.11,-0.18],[-0.1,-0.11],[-0.1,-0.21],
[-0.15,-0.07],[-0.12,-0.08],
[-0.09,-0.11],[-0.09,-0.15],[-0.08,-0.08],[-0.08,-0.13],[-0.07,-0.1],[-0.07,-0.06],[-0.06,-0.14],[-0.06,-0.09],[-0.05,-0.05],[-0.05,-0.11],[-0.04,-0.08],[-0.04,-0.12],[-0.03,-0.06],[-0.03,-0.03],[-0.02,-0.09],[-0.02,-0.05],[-0.01,-0.02],[-0.01,-0.07],[0.0,-0.04],[0.0,-0.01],
[-0.06,-0.02],[-0.03,-0.13],[0.0,-0.1],
[0.01,-0.02],[0.01,0.02],[0.02,-0.06],[0.02,0.0],[0.03,0.03],[0.03,-0.03],[0.04,0.01],[0.04,0.05],[0.05,-0.01],[0.05,0.03],[0.06,0.06],[0.06,0.02],[0.07,0.0],[0.07,0.07],[0.08,0.04],[0.08,0.09],[0.09,0.02],[0.09,0.06],[0.1,0.1],[0.1,0.05],
[0.03,0.09],[0.06,-0.04],[0.09,0.13],
[0.11,0.08],[0.11,0.13],[0.12,0.11],[0.12,0.05],[0.13,0.15],[0.13,0.1],[0.14,0.07],[0.14,0.17],[0.15,0.12],[0.15,0.14],[0.16,0.19],[0.16,0.09],[0.17,0.13],[0.17,0.16],[0.18,0.1],[0.18,0.21],[0.19,0.15],[0.19,0.12],[0.2,0.18],[0.2,0.22],
[0.14,0.26],[0.18,0.3],[0.12,0.0],
[0.21,0.17],[0.21,0.23],[0.22,0.2],[0.22,0.12],[0.23,0.25],[0.23,0.18],[0.24,0.15],[0.24,0.28],[0.25,0.21],[0.25,0.24],[0.26,0.3],[0.26,0.16],[0.27,0.22],[0.27,0.27],[0.28,0.19],[0.28,0.33],[0.29,0.25],[0.29,0.2],[0.3,0.29],[0.3,0.23],
[0.22,0.38],[0.26,0.41],[0.29,0.12],
[0.31,0.24],[0.31,0.31],[0.32,0.28],[0.32,0.19],[0.33,0.34],[0.33,0.26],[0.34,0.22],[0.34,0.37],[0.35,0.29],[0.35,0.32],[0.36,0.4],[0.36,0.23],[0.37,0.3],[0.37,0.35],[0.38,0.26],[0.38,0.43],[0.39,0.33],[0.39,0.28],[0.4,0.38],[0.4,0.31],
[0.33,0.52],[0.37,0.55],[0.4,0.2],
[0.41,0.32],[0.41,0.4],[0.42,0.36],[0.42,0.26],[0.43,0.43],[0.43,0.34],[0.44,0.29],[0.44,0.46],[0.45,0.37],[0.45,0.41],[0.46,0.5],[0.46,0.3],[0.47,0.39],[0.47,0.44],[0.48,0.34],[0.48,0.53],[0.49,0.42],[0.49,0.36],[0.5,0.47],[0.5,0.4],
[0.42,0.62],[0.46,0.66],[0.49,0.24],[0.44,0.58],
[0.51,0.39],[0.51,0.47],[0.52,0.43],[0.52,0.32],[0.53,0.5],[0.53,0.41],[0.54,0.36],[0.54,0.54],[0.55,0.44],[0.55,0.48],[0.56,0.58],[0.56,0.37],[0.57,0.46],[0.57,0.51],[0.58,0.4],[0.58,0.6],[0.59,0.49],[0.59,0.43],[0.6,0.55],[0.6,0.47],
[0.52,0.7],[0.55,0.74],[0.58,0.3],[0.6,0.78],
[0.61,0.46],[0.61,0.54],[0.62,0.5],[0.62,0.39],[0.63,0.58],[0.63,0.48],[0.64,0.43],[0.64,0.62],[0.65,0.51],[0.65,0.55],[0.66,0.66],[0.66,0.44],[0.67,0.53],[0.67,0.58],[0.68,0.47],[0.68,0.68],[0.69,0.56],[0.69,0.5],[0.7,0.62],[0.7,0.54],
[0.63,0.8],[0.66,0.84],[0.69,0.37],[0.64,0.88],
[0.71,0.53],[0.71,0.61],[0.72,0.57],[0.72,0.46],[0.73,0.65],[0.73,0.55],[0.74,0.5],[0.74,0.69],[0.75,0.58],[0.75,0.62],[0.76,0.73],[0.76,0.51],[0.77,0.6],[0.77,0.65],[0.78,0.54],[0.78,0.75],[0.79,0.63],[0.79,0.57],[0.8,0.69],[0.8,0.61],
[0.72,0.9],[0.75,0.94],[0.79,0.86],[0.77,0.44],
[0.81,0.6],[0.81,0.68],[0.82,0.64],[0.82,0.53],[0.83,0.72],[0.83,0.62],[0.84,0.57],[0.84,0.76],[0.85,0.65],[0.85,0.69],[0.86,0.8],[0.86,0.58],[0.87,0.67],[0.87,0.72],[0.88,0.61],[0.88,0.82],[0.89,0.7],[0.89,0.64],[0.9,0.76],[0.9,0.68],
[0.83,0.95],[0.86,0.98],[0.88,0.5],[0.9,0.92],
[0.91,0.67],[0.91,0.75],[0.92,0.71],[0.92,0.6],[0.93,0.79],[0.93,0.69],[0.94,0.64],[0.94,0.83],[0.95,0.72],[0.95,0.76],[0.96,0.87],[0.96,0.65],[0.97,0.74],[0.97,0.79],[0.98,0.68],[0.98,0.89],[0.99,0.77],[0.99,0.71],[1.0,0.83],[1.0,0.75],
[0.92,0.97],[0.95,0.99],[0.98,0.58],[1.0,0.95],[0.97,0.93],
[-0.995,-0.71],[-0.985,-0.58],[-0.975,-0.76],[-0.965,-0.64],[-0.955,-0.53],[-0.945,-0.69],[-0.935,-0.61],[-0.925,-0.78],[-0.915,-0.55],[-0.905,-0.67],[-0.988,-0.88],[-0.952,-0.46],
[-0.895,-0.63],[-0.885,-0.54],[-0.875,-0.71],[-0.865,-0.59],[-0.855,-0.48],[-0.845,-0.65],[-0.835,-0.57],[-0.825,-0.74],[-0.815,-0.52],[-0.805,-0.62],[-0.872,-0.9],[-0.832,-0.45],
[-0.795,-0.57],[-0.785,-0.49],[-0.775,-0.65],[-0.765,-0.53],[-0.755,-0.46],[-0.745,-0.6],[-0.735,-0.52],[-0.725,-0.69],[-0.715,-0.47],[-0.705,-0.56],[-0.762,-0.79],[-0.728,-0.41],
[-0.695,-0.52],[-0.685,-0.44],[-0.675,-0.6],[-0.665,-0.48],[-0.655,-0.42],[-0.645,-0.55],[-0.635,-0.47],[-0.625,-0.64],[-0.615,-0.43],[-0.605,-0.51],[-0.672,-0.72],[-0.618,-0.38],
[-0.595,-0.47],[-0.585,-0.4],[-0.575,-0.54],[-0.565,-0.43],[-0.555,-0.37],[-0.545,-0.49],[-0.535,-0.42],[-0.525,-0.58],[-0.515,-0.38],[-0.505,-0.46],[-0.572,-0.66],[-0.528,-0.33],
[-0.495,-0.41],[-0.485,-0.34],[-0.475,-0.47],[-0.465,-0.37],[-0.455,-0.31],[-0.445,-0.42],[-0.435,-0.36],[-0.425,-0.5],[-0.415,-0.32],[-0.405,-0.39],[-0.462,-0.62],[-0.418,-0.28],
[-0.395,-0.34],[-0.385,-0.28],[-0.375,-0.39],[-0.365,-0.3],[-0.355,-0.26],[-0.345,-0.35],[-0.335,-0.29],[-0.325,-0.42],[-0.315,-0.25],[-0.305,-0.32],[-0.372,-0.55],[-0.328,-0.22],
[-0.295,-0.27],[-0.285,-0.22],[-0.275,-0.31],[-0.265,-0.24],[-0.255,-0.2],[-0.245,-0.28],[-0.235,-0.23],[-0.225,-0.34],[-0.215,-0.19],[-0.205,-0.25],[-0.262,-0.44],[-0.218,-0.15],
[-0.195,-0.2],[-0.185,-0.16],[-0.175,-0.23],[-0.165,-0.17],[-0.155,-0.14],[-0.145,-0.2],[-0.135,-0.16],[-0.125,-0.25],[-0.115,-0.13],[-0.105,-0.17],[-0.172,-0.3],[-0.128,-0.09],
[-0.095,-0.12],[-0.085,-0.1],[-0.075,-0.14],[-0.065,-0.07],[-0.055,-0.09],[-0.045,-0.06],[-0.035,-0.1],[-0.025,-0.04],[-0.015,-0.08],[-0.005,-0.03],[-0.07,-0.12],[-0.04,-0.02],[-0.02,-0.11],[-0.06,-0.08],[-0.01,-0.05],
[0.005,-0.03],[0.015,0.01],[0.025,-0.02],[0.035,0.02],[0.045,-0.01],[0.055,0.04],[0.065,0.01],[0.075,0.05],[0.085,0.03],[0.095,0.07],[0.02,0.04],[0.04,-0.05],[0.06,0.08],[0.08,0.0],[0.1,0.03],
[0.105,0.07],[0.115,0.1],[0.125,0.14],[0.135,0.08],[0.145,0.12],[0.155,0.16],[0.165,0.11],[0.175,0.14],[0.185,0.18],[0.195,0.13],[0.132,0.22],[0.178,0.05],
[0.205,0.16],[0.215,0.2],[0.225,0.24],[0.235,0.17],[0.245,0.22],[0.255,0.27],[0.265,0.19],[0.275,0.24],[0.285,0.28],[0.295,0.22],[0.242,0.35],[0.268,0.1],
[0.305,0.25],[0.315,0.28],[0.325,0.33],[0.335,0.24],[0.345,0.3],[0.355,0.36],[0.365,0.27],[0.375,0.32],[0.385,0.37],[0.395,0.3],[0.342,0.46],[0.378,0.17],
[0.405,0.33],[0.415,0.37],[0.425,0.42],[0.435,0.31],[0.445,0.38],[0.455,0.45],[0.465,0.34],[0.475,0.4],[0.485,0.46],[0.495,0.38],[0.432,0.55],[0.478,0.25],
[0.505,0.4],[0.515,0.45],[0.525,0.5],[0.535,0.38],[0.545,0.46],[0.555,0.53],[0.565,0.41],[0.575,0.48],[0.585,0.55],[0.595,0.45],[0.532,0.64],[0.578,0.32],
[0.605,0.47],[0.615,0.52],[0.625,0.58],[0.635,0.45],[0.645,0.53],[0.655,0.61],[0.665,0.48],[0.675,0.55],[0.685,0.63],[0.695,0.52],[0.632,0.73],[0.678,0.4],
[0.705,0.54],[0.715,0.6],[0.725,0.66],[0.735,0.52],[0.745,0.61],[0.755,0.69],[0.765,0.55],[0.775,0.63],[0.785,0.71],[0.795,0.59],[0.742,0.82],[0.768,0.47],
[0.805,0.61],[0.815,0.67],[0.825,0.74],[0.835,0.59],[0.845,0.68],[0.855,0.77],[0.865,0.62],[0.875,0.7],[0.885,0.79],[0.895,0.66],[0.842,0.9],[0.868,0.52],
[0.905,0.68],[0.915,0.74],[0.925,0.81],[0.935,0.66],[0.945,0.75],[0.955,0.84],[0.965,0.69],[0.975,0.77],[0.985,0.86],[0.995,0.73],[0.942,0.95],[0.968,0.58]
];

const panelPoints = [noScalerPoints, minMaxPoints, standardPoints, maxAmpPoints];
const pointOpacity = [0.17, 0.62, 0.13, 0.17];

// ---------------- LAYOUT ----------------
const FONT = "'DejaVu Sans', sans-serif";
const grids = [
  {left: 72,  top: 32,  width: 491, height: 246},
  {left: 644, top: 32,  width: 491, height: 246},
  {left: 72,  top: 384, width: 491, height: 246},
  {left: 644, top: 384, width: 491, height: 246}
];
const minusFix = s => s.replace('-', '\u2212');

const option = {
  animation: false,
  backgroundColor: '#fff',
  grid: grids.map(g => Object.assign({show: true, borderColor: '#000', borderWidth: 1, backgroundColor: 'transparent', containLabel: false}, g)),
  xAxis: grids.map((g, i) => ({
    gridIndex: i, type: 'value', min: -1, max: 1, interval: 0.25,
    name: xAxisName, nameLocation: 'middle', nameGap: 21,
    nameTextStyle: {fontFamily: FONT, fontSize: 15, color: '#000'},
    axisLine: {show: true, onZero: false, lineStyle: {color: '#000', width: 1}},
    axisTick: {show: true, length: 4, lineStyle: {color: '#000', width: 1}},
    axisLabel: {fontFamily: FONT, fontSize: 15, color: '#000', margin: 5,
      formatter: v => minusFix(v.toFixed(2))},
    splitLine: {show: false}
  })),
  yAxis: grids.map((g, i) => ({
    gridIndex: i, type: 'value', min: -1, max: 1, interval: 0.5,
    name: yAxisName, nameLocation: 'middle', nameGap: 46, nameRotate: 90,
    nameTextStyle: {fontFamily: FONT, fontSize: 15, color: '#000'},
    axisLine: {show: true, onZero: false, lineStyle: {color: '#000', width: 1}},
    axisTick: {show: true, length: 4, lineStyle: {color: '#000', width: 1}},
    axisLabel: {fontFamily: FONT, fontSize: 15, color: '#000', margin: 6,
      formatter: v => minusFix(v.toFixed(1))},
    splitLine: {show: false}
  })),
  series: [],
  graphic: []
};

panelPoints.forEach((pts, i) => {
  option.series.push({
    type: 'scatter', xAxisIndex: i, yAxisIndex: i, data: pts,
    symbol: 'circle', symbolSize: 6, silent: true,
    itemStyle: {color: 'rgba(0,0,255,' + pointOpacity[i] + ')', borderWidth: 0},
    emphasis: {disabled: true}, z: 2
  });
});
panelPoints.forEach((pts, i) => {
  option.series.push({
    type: 'line', xAxisIndex: i, yAxisIndex: i, data: diagonal,
    symbol: 'none', silent: true,
    lineStyle: {color: '#000', width: 1}, z: 3
  });
});

grids.forEach((g, i) => {
  const cx = g.left + g.width / 2;
  option.graphic.push({
    type: 'text', x: cx, y: g.top - 12,
    style: {text: panelTitles[i], fill: '#000', font: "18px 'DejaVu Sans'", textAlign: 'center', textVerticalAlign: 'middle'}
  });
  option.graphic.push({
    type: 'text', x: cx - 23, y: g.top + g.height + 67,
    style: {text: subCaptions[i], fill: '#000', font: "21px 'Liberation Serif'", textAlign: 'center', textVerticalAlign: 'middle'}
  });
});

const chart = echarts.init(document.getElementById('chart'), null, {renderer: 'canvas'});
chart.setOption(option);
</script>
</body>
</html>
